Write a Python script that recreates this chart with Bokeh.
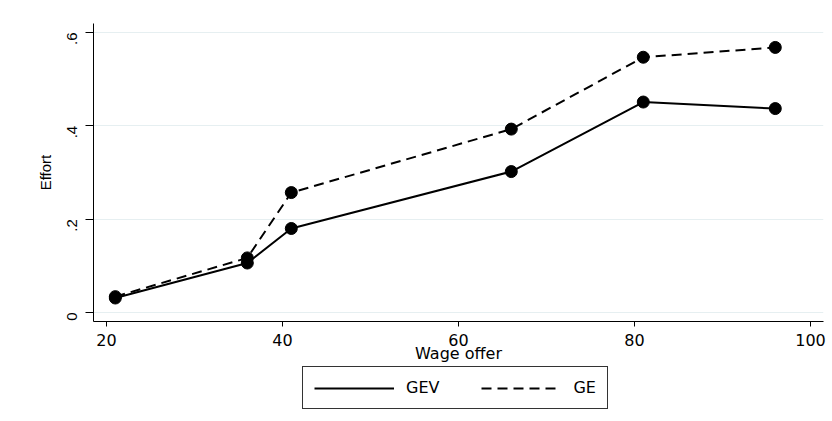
from bokeh.plotting import figure
from bokeh.models import Legend, LegendItem, FixedTicker, ColumnDataSource
from bokeh.layouts import column
from bokeh.embed import file_html
from bokeh.resources import INLINE
import math

wage = [21, 36, 41, 66, 81, 96]
gev = [0.031, 0.106, 0.180, 0.302, 0.451, 0.437]
ge = [0.034, 0.117, 0.257, 0.393, 0.547, 0.568]
x_ticks = [20, 40, 60, 80, 100]
y_ticks = [0, 0.2, 0.4, 0.6]
y_tick_labels = {0: "0", 0.2: ".2", 0.4: ".4", 0.6: ".6"}
series_names = ["GEV", "GE"]

HFONT = "DejaVu Sans"
VFONT = "Liberation Sans"
DASH = "10 6"

p = figure(width=830, height=366, output_backend="svg", toolbar_location=None,
           x_range=(18.52, 101.48), y_range=(-0.0193, 0.6193),
           min_border_left=93, min_border_top=23, min_border_right=7,
           min_border_bottom=45,
           background_fill_color="white", border_fill_color="white")
p.outline_line_color = None

src = ColumnDataSource(dict(x=wage, gev=gev, ge=ge))
p.line("x", "gev", source=src, line_color="black", line_width=2)
p.scatter("x", "gev", source=src, size=12, color="black")
p.line("x", "ge", source=src, line_color="black", line_width=2, line_dash=DASH)
p.scatter("x", "ge", source=src, size=12, color="black")

# axes
p.xaxis.ticker = FixedTicker(ticks=x_ticks)
p.yaxis.ticker = FixedTicker(ticks=y_ticks)
p.yaxis.major_label_overrides = y_tick_labels
p.yaxis.major_label_orientation = math.pi / 2
for ax in (p.xaxis[0], p.yaxis[0]):
    ax.axis_line_color = "black"
    ax.axis_line_width = 1
    ax.major_tick_line_color = "black"
    ax.major_tick_in = 0
    ax.minor_tick_line_color = None
    ax.major_label_text_color = "black"
    ax.axis_label_text_font_style = "normal"
    ax.axis_label_text_color = "black"
p.xaxis.major_label_text_font = HFONT
p.xaxis.major_label_text_font_size = "16px"
p.xaxis.axis_label_text_font = HFONT
p.xaxis.axis_label_text_font_size = "16px"
p.yaxis.major_label_text_font = VFONT
p.yaxis.major_label_text_font_size = "15px"
p.yaxis.axis_label_text_font = VFONT
p.yaxis.axis_label_text_font_size = "15px"
p.xaxis.major_tick_out = 5
p.yaxis.major_tick_out = 8
p.xaxis.major_label_standoff = 7
p.yaxis.major_label_standoff = 13
p.xaxis.axis_label = "Wage offer"
p.yaxis.axis_label = "Effort"
p.xaxis.axis_label_standoff = -5
p.yaxis.axis_label_standoff = 6

p.xgrid.grid_line_color = None
p.ygrid.grid_line_color = "#e6eff1"
p.ygrid.grid_line_width = 1

# legend strip below the chart (series drawn off-view, only their legend shows)
p2 = figure(width=830, height=44, output_backend="svg", toolbar_location=None,
            x_range=(0, 1), y_range=(0, 1), min_border=0,
            background_fill_color="white", border_fill_color="white")
p2.outline_line_color = None
p2.axis.visible = False
p2.grid.grid_line_color = None
l1 = p2.line("x", "gev", source=src, line_color="black", line_width=2)
l2 = p2.line("x", "ge", source=src, line_color="black", line_width=2, line_dash=DASH)

legend = Legend(items=[LegendItem(label=series_names[0], renderers=[l1]),
                       LegendItem(label=series_names[1], renderers=[l2])],
                orientation="horizontal", location=(209, 1))
legend.glyph_width = 80
legend.glyph_height = 16
legend.label_text_font = HFONT
legend.label_text_font_size = "16px"
legend.label_text_color = "black"
legend.label_standoff = 12
legend.spacing = 42
legend.padding = 11
legend.margin = 0
legend.border_line_color = "#333333"
legend.border_line_alpha = 1.0
legend.border_line_width = 1
legend.background_fill_color = "white"
legend.background_fill_alpha = 1.0
p2.add_layout(legend, "center")

layout = column(p, p2, spacing=0)
open("out.html", "w").write(file_html(layout, INLINE))
